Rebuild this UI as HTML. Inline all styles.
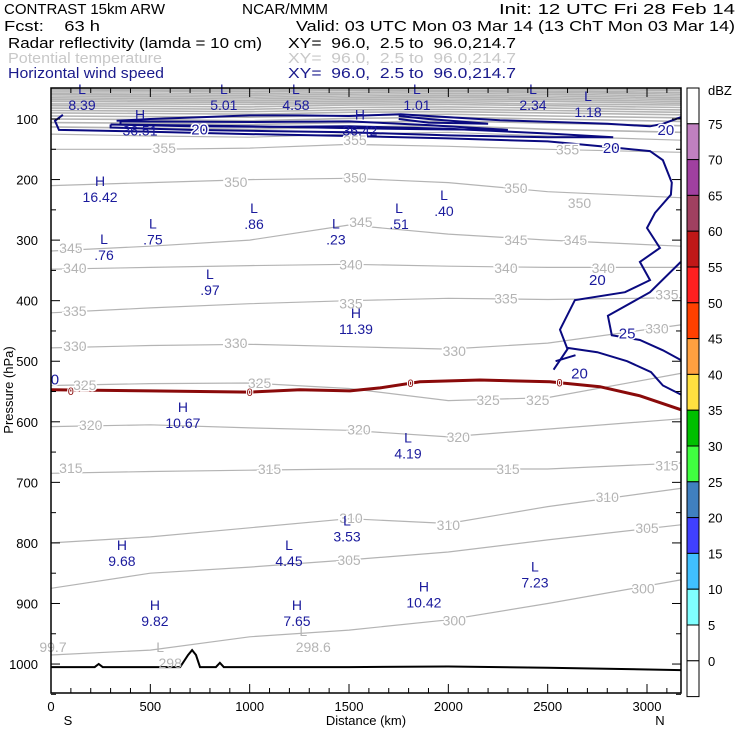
<!DOCTYPE html>
<html><head><meta charset="utf-8"><style>
body{margin:0;background:#fff}
svg{display:block;font-family:"Liberation Sans",sans-serif}
</style></head><body>
<svg id="c" width="740" height="740" viewBox="0 0 740 740">
<g font-size="15">
<text x="4" y="14" textLength="161" lengthAdjust="spacingAndGlyphs">CONTRAST 15km ARW</text>
<text x="242" y="14" textLength="86" lengthAdjust="spacingAndGlyphs">NCAR/MMM</text>
<text x="499" y="14" textLength="236" lengthAdjust="spacingAndGlyphs">Init: 12 UTC Fri 28 Feb 14</text>
<text x="4" y="31" xml:space="preserve" textLength="96" lengthAdjust="spacingAndGlyphs">Fcst:    63 h</text>
<text x="296" y="31" textLength="439" lengthAdjust="spacingAndGlyphs">Valid: 03 UTC Mon 03 Mar 14 (13 ChT Mon 03 Mar 14)</text>
<text x="8" y="48" textLength="254" lengthAdjust="spacingAndGlyphs">Radar reflectivity (lamda = 10 cm)</text>
<text x="288" y="48" xml:space="preserve" textLength="228" lengthAdjust="spacingAndGlyphs">XY=  96.0,  2.5 to  96.0,214.7</text>
<text x="8" y="63" fill="#c8c8c8" textLength="154" lengthAdjust="spacingAndGlyphs">Potential temperature</text>
<text x="288" y="63" fill="#c8c8c8" xml:space="preserve" textLength="228" lengthAdjust="spacingAndGlyphs">XY=  96.0,  2.5 to  96.0,214.7</text>
<text x="8" y="78" fill="#1a1a8c" textLength="156" lengthAdjust="spacingAndGlyphs">Horizontal wind speed</text>
<text x="288" y="78" fill="#1a1a8c" xml:space="preserve" textLength="228" lengthAdjust="spacingAndGlyphs">XY=  96.0,  2.5 to  96.0,214.7</text>
</g>
<g id="plot"></g>
<g id="cb"></g>
</svg>
<script>
const thetaDist=[0,500,1000,1500,2000,2500,3170];
const thetaLevels=[300,305,310,315,320,325,330,335,340,345,350,355,360,365,370,375,380,385,390,395,400,405,410,415,420,425,430,435,440,445,450];
const thetaP=[
[985,977,955,944,927,900,861],
[875,850,840,828,815,795,770],
[800,790,775,760,768,740,710],
[685,682,680,678,678,678,668],
[608,605,610,614,625,612,595],
[540,537,536,545,565,560,520],
[478,474,472,476,480,470,440],
[420,412,405,400,396,398,395],
[348,345,342,340,343,345,345],
[318,310,300,275,290,300,310],
[210,205,200,198,205,220,230],
[150,150,148,142,145,150,155],
[125,128,130,125,122,128,135],
[113,115,117,113,111,117,122],
[106,107,109,106,103,107,111],
[100,101,103,99,97,100,104],
[95,96,97,94,92,95,98],
[90,91,92,89,88,90,93],
[86,87,88,85,84,86,89],
[82,83,84,81,80,82,85],
[78,79,80,77,76,78,81],
[75,75,76,74,73,75,77],
[71,72,73,71,70,71,74],
[68,69,70,68,67,68,71],
[65,66,67,65,64,65,68],
[62,63,64,62,61,62,65],
[59,60,61,59,58,59,62],
[57,57,58,56,55,56,59],
[54,54,55,53,53,54,56],
[51,52,52,51,50,51,53],
[49,49,50,48,48,49,51]];
const thetaLabels=[[2030,928,"300"],[2980,875,"300"],[1500,828,"305"],[3000,775,"305"],[1510,759,"310"],[2000,770,"310"],[2800,724,"310"],[100,676,"315"],[1100,678,"315"],[2300,678,"315"],[3100,672,"315"],[200,605,"320"],[1550,613,"320"],[2050,625,"320"],[170,539,"325"],[1050,536,"325"],[2200,564,"325"],[2450,564,"325"],[120,475,"330"],[930,470,"330"],[2030,483,"330"],[3050,446,"330"],[120,417,"335"],[1510,405,"335"],[2290,396,"335"],[3100,390,"335"],[120,346,"340"],[1510,340,"340"],[2290,346,"340"],[2780,346,"340"],[100,313,"345"],[1560,270,"345"],[2340,300,"345"],[2640,300,"345"],[930,204,"350"],[1530,197,"350"],[2340,214,"350"],[2660,239,"350"],[570,148,"355"],[1530,135,"355"],[2600,150,"355"]];
const windSpeedLevels=[20,20,25,30,35,20,25,20];
const windPaths=[
[[60,93],[20,103],[40,118],[500,121],[1000,125],[1500,128],[2000,132],[2500,137],[2800,146],[3015,153],[3080,168],[3125,205],[3120,225],[3040,255],[3000,280],[3065,313],[2964,336],[3015,366],[2889,386],[2637,399],[2562,448],[2600,480],[2530,514]],
[[3170,97],[3080,108],[3015,112],[2800,108],[2260,102],[1900,95],[1760,92],[1500,95],[1250,94],[1000,94],[750,97],[500,100],[330,103]],
[[300,109],[700,112],[1100,113],[1500,112],[2000,116],[2500,124],[2830,130],[2500,130],[2000,127],[1500,122],[1100,120],[700,118],[300,114],[300,109]],
[[350,104],[1000,105],[1500,104],[1900,110],[2300,118],[1900,117],[1500,115],[1000,112],[350,109],[350,104]],
[[1750,95],[1900,100],[2200,108],[1900,106],[1750,100]],
[[2600,478],[2750,485],[2900,500],[3020,518],[3080,540],[3170,555]],
[[3170,336],[3015,386],[2803,425],[2823,457],[2964,465],[3080,482],[3170,498]],
[[2540,500],[2640,490]]];
const windLabels=[[748,117,"20"],[2820,148,"20"],[3095,118,"20"],[2750,366,"20"],[2660,520,"20"],[2900,454,"25"],[20,530,"0"]];
const zeroD=[0,498,1002,1253,1505,1656,1857,2159,2511,2763,2964,3170];
const zeroP=[547,549,551,547,549,544,534,531,534,542,557,580];
const zeroLabels=[[100,549],[1000,551],[1810,536],[2560,535]];
const terrD=[0,220,240,260,650,690,710,730,750,830,850,870,1500,2000,2500,3170];
const terrP=[1005,1005,1000,1005,1005,985,977,985,1005,1005,998,1005,1005,1004,1006,1010];
const hlLetters=["L","H","L","L","H","L","L","L","H","L","L","L","L","L","L","L","H","H","L","L","L","H","L","H","H","H"];
const hlValues=["8.39","36.51","5.01","4.58","36.42","1.01","2.34","1.18","16.42",".86",".75",".23",".51",".40",".76",".97","11.39","10.67","4.19","3.53","4.45","9.68","7.23","10.42","9.82","7.65"];
const hlD=[156,448,870,1233,1555,1842,2426,2703,247,1022,513,1434,1752,1978,267,800,1535,664,1797,1490,1198,357,2436,1877,523,1238];
const hlP=[75,117,75,75,117,75,75,87,227,272,297,297,272,250,323,381,445,600,651,788,828,828,864,897,927,927];
const grayHL=[["","99.7",10,970],["L","298",600,997],["L","298.6",1320,970]];
const pTicks=[100,200,300,400,500,600,700,800,900,1000];
const dTicks=[0,500,1000,1500,2000,2500,3000];
const cbLevels=["75","70","65","60","55","50","45","40","35","30","25","20","15","10","5","0"];
const cbColors=["#fff","#c080c0","#a040a0","#a04060","#c01818","#ff2020","#ff4000","#ffa040","#ffe040","#00c000","#40ff40","#4080c0","#4040ff","#40c0ff","#80ffff","#fff","#fff"];

const NS="http://www.w3.org/2000/svg";
const X0=51,X1=681,Y0=88,Y1=693;
const xs=d=>X0+d*0.19867;
const ys=p=>119+(p-100)*0.6056;
const plot=document.getElementById('plot');
function mk(tag,attrs,parent){const e=document.createElementNS(NS,tag);for(const k in attrs)e.setAttribute(k,attrs[k]);(parent||plot).appendChild(e);return e;}
function txt(x,y,s,fill,anchor,size){const t=mk('text',{x:x,y:y,fill:fill,'text-anchor':anchor||'middle','font-size':size||14});t.textContent=s;return t;}
const pts=a=>a.map(q=>xs(q[0]).toFixed(1)+','+ys(q[1]).toFixed(1)).join(' ');

const defs=mk('defs',{},document.getElementById('c'));
const cp=mk('clipPath',{id:'clip'},defs);mk('rect',{x:X0,y:Y0,width:X1-X0,height:Y1-Y0},cp);
const g=mk('g',{'clip-path':'url(#clip)'});

thetaLevels.forEach((lv,i)=>{
 const l=mk('polyline',{points:pts(thetaDist.map((d,j)=>[d,thetaP[i][j]])),fill:'none',stroke:'#b4b4b4','stroke-width':lv>360?1.6:1.2},g);
 
 
});
thetaLabels.forEach(L=>{
 const t=txt(xs(L[0]),ys(L[1])+5,L[2],'#b4b4b4');
 t.setAttribute('stroke','#fff');t.setAttribute('stroke-width','3');t.setAttribute('paint-order','stroke');
 
 
});
windPaths.forEach((p,i)=>{
 const l=mk('polyline',{points:pts(p),fill:'none',stroke:'#0a0a80','stroke-width':2},g);
 
 
});
windLabels.forEach(L=>{
 const t=txt(xs(L[0]),ys(L[1])+5,L[2],'#1a1a9c',null,15);
 t.setAttribute('stroke','#fff');t.setAttribute('stroke-width','3');t.setAttribute('paint-order','stroke');
 
 
});
const z=mk('polyline',{points:pts(zeroD.map((d,i)=>[d,zeroP[i]])),fill:'none',stroke:'#8a0a0a','stroke-width':3},g);


zeroLabels.forEach(L=>{
 const t=txt(xs(L[0]),ys(L[1])+4,'0','#8a0a0a',null,11);
 t.setAttribute('stroke','#fff');t.setAttribute('stroke-width','2');t.setAttribute('paint-order','stroke');
 
 
});
const tr=mk('polyline',{points:pts(terrD.map((d,i)=>[d,terrP[i]])),fill:'none',stroke:'#000','stroke-width':2},g);


hlValues.forEach((v,i)=>{
 const x=xs(hlD[i]),y=ys(hlP[i]);
 const a=txt(x,y-10,hlLetters[i],'#1a1a9c',null,14);
 
 
 const b=txt(x,y+6,v,'#1a1a9c',null,14);
 
 
});
grayHL.forEach(q=>{
 const x=xs(q[2]),y=ys(q[3]);
 if(q[0]){const a=txt(x-10,y-10,q[0],'#b4b4b4');}
 const b=txt(x,y+6,q[1],'#b4b4b4');
 
 
});
const fr=mk('rect',{x:X0,y:Y0,width:X1-X0,height:Y1-Y0,fill:'none',stroke:'#000','stroke-width':1.5});


for(let p=100;p<=1050;p+=50){const y=ys(p);const mj=p%100===0;
 mk('line',{x1:X0,x2:X0+(mj?9:5),y1:y,y2:y,stroke:'#000'});
 mk('line',{x1:X1,x2:X1-(mj?9:5),y1:y,y2:y,stroke:'#000'});}
for(let d=0;d<=3100;d+=100){const x=xs(d);const mj=d%500===0;
 mk('line',{x1:x,x2:x,y1:Y1,y2:Y1-(mj?9:5),stroke:'#000'});
 mk('line',{x1:x,x2:x,y1:Y0,y2:Y0+(mj?9:5),stroke:'#000'});}
pTicks.forEach(p=>{const t=txt(38,ys(p)+5,String(p),'#000','end',13);
 
 });
dTicks.forEach(d=>{const t=txt(xs(d),711,String(d),'#000','middle',13);
 
 });
let t=txt(366,725,'Distance (km)','#000','middle',13);

t=txt(0,0,'Pressure (hPa)','#000','middle',13);t.setAttribute('transform','translate(13,390) rotate(-90)');

t=txt(68,725,'S','#000','middle',13);
t=txt(660,725,'N','#000','middle',13);
const cb=document.getElementById('cb');
const cbX=687,cbW=12,cbTop=88,step=35.8;
cbColors.forEach((c,i)=>{
 const r=mk('rect',{x:cbX,y:cbTop+i*step,width:cbW,height:step,fill:c,stroke:'#000','stroke-width':1},cb);
 
 
});
cbLevels.forEach((l,i)=>{
 const tt=txt(708,cbTop+(i+1)*step+5,l,'#000','start',13);cb.appendChild(tt);
 
 
});
t=txt(708,95,'dBZ','#000','start',13);cb.appendChild(t);

</script>
</body></html>
